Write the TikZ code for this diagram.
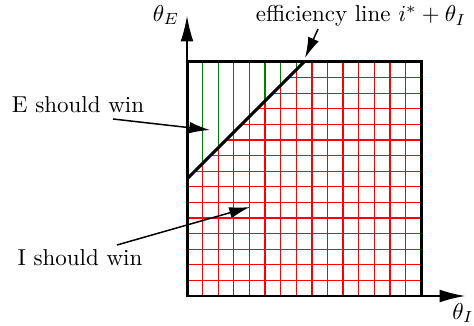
\documentclass[tikz,border=0pt]{standalone}
\usetikzlibrary{arrows.meta}
\begin{document}
\begin{tikzpicture}[x=0.4348pt,y=-0.4348pt,
  redline/.style={red,line width=0.6pt},
  greenline/.style={green!50!black,line width=0.6pt},
  axisline/.style={line width=0.5pt,-{Latex[length=11pt,width=5.5pt]}},
  thickline/.style={line width=1.3pt},
  pointer/.style={line width=0.65pt,-{Latex[length=9pt,width=5pt]}},
  lbl/.style={inner sep=1pt}]
\useasboundingbox (0,0) rectangle (474,326);
% grid
\foreach \k in {1,...,14}{
  \pgfmathsetmacro\xx{187+15.6*\k}
  \pgfmathsetmacro\yd{max(62,296-15.6*(7.5+\k))}
  \draw[redline] (\xx,296) -- (\xx,\yd);
  \ifnum\k<8
    \draw[greenline] (\xx,\yd) -- (\xx,62);
  \fi
}
\foreach \j in {1,...,14}{
  \pgfmathsetmacro\yy{296-15.6*\j}
  \pgfmathsetmacro\xs{187+15.6*max(0,\j-7.5)}
  \draw[redline] (\xs,\yy) -- (421,\yy);
}
% coordinates
\coordinate (O) at (187,296);
\coordinate (ytop) at (187,16);
\coordinate (xend) at (465,296);
\coordinate (dA) at (187,179);
\coordinate (dB) at (304,62);
% axes
\draw[axisline] (O) -- (ytop);
\draw[axisline] (O) -- (xend);
% square and efficiency line
\draw[thickline] (187,62) rectangle (421,296);
\draw[thickline] (dA) -- (dB);
% labels
\node[lbl] (thE) at (166,15) {$\theta_E$};
\node[lbl] (thI) at (463,313) {$\theta_I$};
\node[lbl] (eff) at (361,16) {efficiency line $i^*+\theta_I$};
\node[lbl] (ewin) at (78,105) {E should win};
\node[lbl] (iwin) at (80,258) {I should win};
% pointers
\coordinate (effS) at (318,29);
\coordinate (effT) at (305,58);
\coordinate (ewS) at (113,119);
\coordinate (ewT) at (210,130);
\coordinate (iwS) at (117,245);
\coordinate (iwT) at (250,207);
\draw[pointer] (effS) -- (effT);
\draw[pointer] (ewS) -- (ewT);
\draw[pointer] (iwS) -- (iwT);
\end{tikzpicture}
\end{document}
